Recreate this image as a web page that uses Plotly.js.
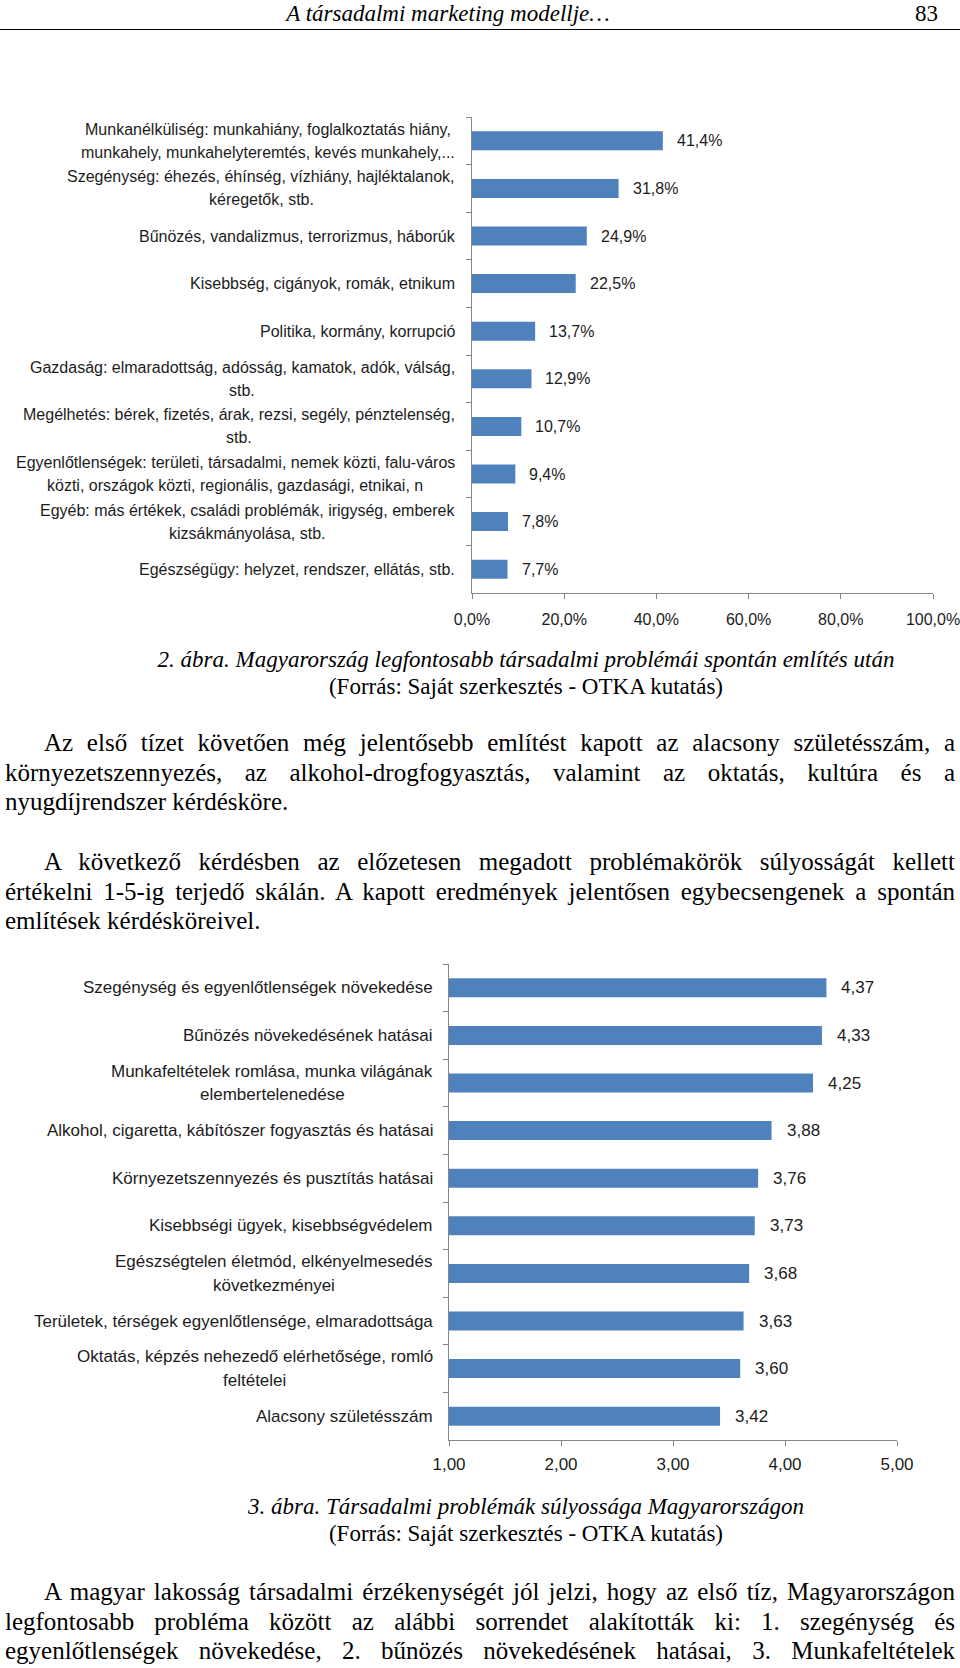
<!DOCTYPE html>
<html><head><meta charset="utf-8">
<script src="https://cdn.plot.ly/plotly-3.0.1.min.js"></script>
<style>
html,body{margin:0;padding:0;background:#fff;}
#page{position:relative;width:960px;height:1668px;overflow:hidden;background:#fff;}
.t{position:absolute;white-space:nowrap;color:#000;font-family:"Liberation Serif","Times New Roman",serif;}
.chart{position:absolute;left:0;width:960px;height:540px;}
</style></head><body><div id="page">
<div id="chart1" class="chart" style="top:100px"></div>
<div id="chart2" class="chart" style="top:940px"></div>
</div>
<script>
// ---------- DATA ----------
const headerTitle = "A társadalmi marketing modellje…";
const pageNumber = "83";

const problems1 = [
  "Munkanélküliség: munkahiány, foglalkoztatás hiány,<br>munkahely, munkahelyteremtés, kevés munkahely,...",
  "Szegénység: éhezés, éhínség, vízhiány, hajléktalanok,<br>kéregetők, stb.",
  "Bűnözés, vandalizmus, terrorizmus, háborúk",
  "Kisebbség, cigányok, romák, etnikum",
  "Politika, kormány, korrupció",
  "Gazdaság: elmaradottság, adósság, kamatok, adók, válság,<br>stb.",
  "Megélhetés: bérek, fizetés, árak, rezsi, segély, pénztelenség,<br>stb.",
  "Egyenlőtlenségek: területi, társadalmi, nemek közti, falu-város<br>közti, országok közti, regionális, gazdasági, etnikai, n",
  "Egyéb: más értékek, családi problémák, irigység, emberek<br>kizsákmányolása, stb.",
  "Egészségügy: helyzet, rendszer, ellátás, stb."
];
const share1 = [41.4, 31.8, 24.9, 22.5, 13.7, 12.9, 10.7, 9.4, 7.8, 7.7];
const ticks1 = [0, 20, 40, 60, 80, 100];
const tickText1 = ["0,0%", "20,0%", "40,0%", "60,0%", "80,0%", "100,0%"];

const caption1 = ["2. ábra. Magyarország legfontosabb társadalmi problémái spontán említés után",
                  "(Forrás: Saját szerkesztés - OTKA kutatás)"];

const para1 = ["Az első tízet követően még jelentősebb említést kapott az alacsony születésszám, a",
               "környezetszennyezés, az alkohol-drogfogyasztás, valamint az oktatás, kultúra és a",
               "nyugdíjrendszer kérdésköre."];
const para2 = ["A következő kérdésben az előzetesen megadott problémakörök súlyosságát kellett",
               "értékelni 1-5-ig terjedő skálán. A kapott eredmények jelentősen egybecsengenek a spontán",
               "említések kérdésköreivel."];

const problems2 = [
  "Szegénység és egyenlőtlenségek növekedése",
  "Bűnözés növekedésének hatásai",
  "Munkafeltételek romlása, munka világának<br>elembertelenedése",
  "Alkohol, cigaretta, kábítószer fogyasztás és hatásai",
  "Környezetszennyezés és pusztítás hatásai",
  "Kisebbségi ügyek, kisebbségvédelem",
  "Egészségtelen életmód, elkényelmesedés<br>következményei",
  "Területek, térségek egyenlőtlensége, elmaradottsága",
  "Oktatás, képzés nehezedő elérhetősége, romló<br>feltételei",
  "Alacsony születésszám"
];
const severity2 = [4.37, 4.33, 4.25, 3.88, 3.76, 3.73, 3.68, 3.63, 3.60, 3.42];
const ticks2 = [1, 2, 3, 4, 5];
const tickText2 = ["1,00", "2,00", "3,00", "4,00", "5,00"];

const caption2 = ["3. ábra. Társadalmi problémák súlyossága Magyarországon",
                  "(Forrás: Saját szerkesztés - OTKA kutatás)"];
const para3 = ["A magyar lakosság társadalmi érzékenységét jól jelzi, hogy az első tíz, Magyarországon",
               "legfontosabb probléma között az alábbi sorrendet alakították ki: 1. szegénység és",
               "egyenlőtlenségek növekedése, 2. bűnözés növekedésének hatásai, 3. Munkafeltételek"];

// ---------- TEXT ----------
const page = document.getElementById('page');
function addLine(text, o) {
  const d = document.createElement('div');
  d.className = 't';
  d.textContent = text;
  const lh = o.lh || 30;
  d.style.left = o.left + 'px';
  d.style.width = o.width + 'px';
  d.style.top = (o.cy - lh / 2) + 'px';
  d.style.height = lh + 'px';
  d.style.lineHeight = lh + 'px';
  d.style.fontSize = o.size + 'px';
  if (o.italic) d.style.fontStyle = 'italic';
  d.style.textAlign = o.align || 'left';
  if (o.align === 'justify') d.style.textAlignLast = 'justify';
  page.appendChild(d);
}
addLine(headerTitle, {left: 48, width: 800, cy: 14, size: 23, lh: 26, italic: true, align: 'center'});
addLine(pageNumber, {left: 838, width: 100, cy: 14, size: 23, lh: 26, align: 'right'});
const rule = document.createElement('div');
rule.style.cssText = 'position:absolute;left:0;top:29px;width:960px;height:0;border-top:1.5px solid #000;';
page.appendChild(rule);

function addCaption(lines, cy) {
  addLine(lines[0], {left: 92, width: 868, cy: cy, size: 23, lh: 26, italic: true, align: 'center'});
  addLine(lines[1], {left: 92, width: 868, cy: cy + 26.5, size: 23, lh: 26, align: 'center'});
}
function addPara(lines, cy, lastJustified) {
  lines.forEach((ln, i) => {
    const isLast = i === lines.length - 1;
    addLine(ln, {
      left: i === 0 ? 44 : 5, width: i === 0 ? 911 : 950,
      cy: cy + i * 29.6, size: 25, lh: 30,
      align: (isLast && !lastJustified) ? 'left' : 'justify'
    });
  });
}
addCaption(caption1, 660);
addPara(para1, 743, false);
addPara(para2, 862, false);
addCaption(caption2, 1507);
addPara(para3, 1592, true);

// ---------- CHARTS ----------
const BLUE = '#4F81BD';
const AXIS = '#868686';
const INK = '#1c1c1c';
const SANS = '"Liberation Sans", Arial, sans-serif';
const config = {staticPlot: true, displayModeBar: false};

const measureCtx = document.createElement('canvas').getContext('2d');
function textWidth(s, size) {
  measureCtx.font = size + 'px "Liberation Sans", Arial, sans-serif';
  return measureCtx.measureText(s).width;
}

function makeChart(div, cats, vals, opts) {
  const trace = {
    type: 'bar', orientation: 'h', y: cats, x: vals,
    marker: {color: BLUE, line: {width: 0}}, width: 0.4, hoverinfo: 'skip'
  };
  const ann = [];
  cats.forEach((c, i) => {
    const lines = c.split('<br>');
    const blockW = Math.max(...lines.map(s => textWidth(s, opts.labelSize)));
    const n = lines.length;
    lines.forEach((ln, j) => {
      ann.push({xref: 'paper', x: 0, xanchor: 'center',
        xshift: opts.labelShift - blockW / 2,
        yref: 'y', y: c, yanchor: 'middle',
        yshift: ((n - 1) / 2 - j) * opts.lineGap,
        text: ln, showarrow: false, borderpad: 0,
        font: {family: SANS, size: opts.labelSize, color: INK}});
    });
    ann.push({xref: 'x', x: vals[i], xanchor: 'left', xshift: opts.valShift,
      yref: 'y', y: c, yanchor: 'middle', text: opts.fmt(vals[i]), showarrow: false,
      font: {family: SANS, size: opts.valSize, color: INK}});
  });
  const layout = {
    width: 960, height: 540,
    margin: opts.margin,
    paper_bgcolor: 'rgba(0,0,0,0)', plot_bgcolor: 'rgba(0,0,0,0)',
    showlegend: false,
    xaxis: {
      range: opts.range, tickmode: 'array', tickvals: opts.ticks, ticktext: opts.tickText,
      showgrid: false, zeroline: false, showline: true, linecolor: AXIS, linewidth: 1,
      ticks: 'outside', ticklen: 5, tickcolor: AXIS, tickwidth: 1,
      ticklabelstandoff: opts.standoff, ticklabeloverflow: 'allow',
      tickfont: {family: SANS, size: opts.tickSize, color: INK}
    },
    yaxis: {
      type: 'category', autorange: 'reversed', showticklabels: false,
      ticks: 'outside', tickson: 'boundaries', ticklen: 5, tickcolor: AXIS, tickwidth: 1,
      showline: true, linecolor: AXIS, linewidth: 1, showgrid: false, zeroline: false
    },
    annotations: ann
  };
  Plotly.newPlot(div, [trace], layout, config);
}

makeChart('chart1', problems1, share1, {
  margin: {l: 472, r: 27, t: 17, b: 47, pad: 0},
  range: [0, 100], ticks: ticks1, tickText: tickText1,
  standoff: 7, tickSize: 16, labelSize: 16, valSize: 16,
  labelShift: -17, valShift: 12, lineGap: 23,
  fmt: v => v.toFixed(1).replace('.', ',') + '%'
});
makeChart('chart2', problems2, severity2, {
  margin: {l: 449, r: 63, t: 24, b: 40, pad: 0},
  range: [1, 5], ticks: ticks2, tickText: tickText2,
  standoff: 4, tickSize: 17, labelSize: 17, valSize: 17,
  labelShift: -16, valShift: 13, lineGap: 23.5,
  fmt: v => v.toFixed(2).replace('.', ',')
});
</script>
</body></html>
